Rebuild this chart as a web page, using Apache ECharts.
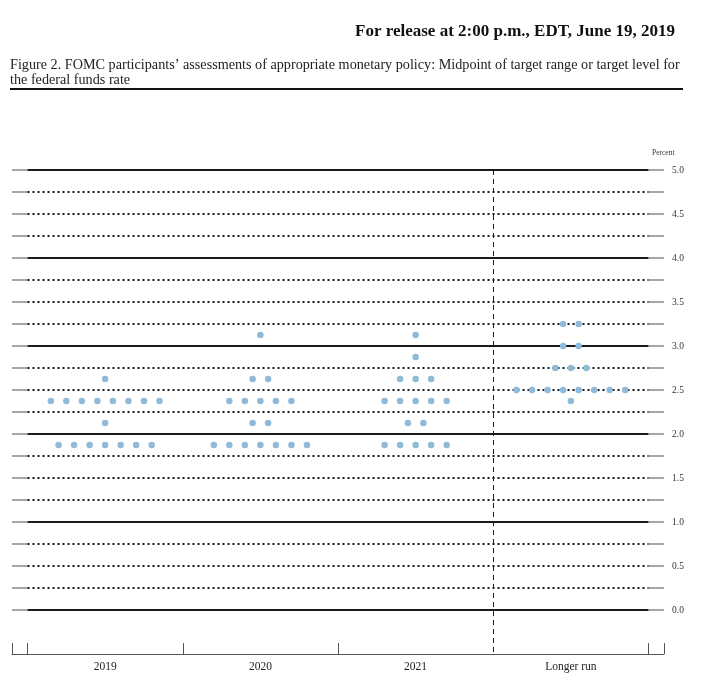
<!DOCTYPE html>
<html>
<head>
<meta charset="utf-8">
<script src="https://cdn.jsdelivr.net/npm/echarts@6/dist/echarts.min.js"></script>
<style>
html,body{margin:0;padding:0;background:#fff;}
#chart{width:723px;height:687px;}
</style>
</head>
<body>
<div id="chart"></div>
<script>
// ---- data ----
const categories = ['2019', '2020', '2021', 'Longer run'];
const proj2019 = [2.625, 2.375, 2.375, 2.375, 2.375, 2.375, 2.375, 2.375, 2.375, 2.125, 1.875, 1.875, 1.875, 1.875, 1.875, 1.875, 1.875];
const proj2020 = [3.125, 2.625, 2.625, 2.375, 2.375, 2.375, 2.375, 2.375, 2.125, 2.125, 1.875, 1.875, 1.875, 1.875, 1.875, 1.875, 1.875];
const proj2021 = [3.125, 2.875, 2.625, 2.625, 2.625, 2.375, 2.375, 2.375, 2.375, 2.375, 2.125, 2.125, 1.875, 1.875, 1.875, 1.875, 1.875];
const projLonger = [3.25, 3.25, 3.0, 3.0, 2.75, 2.75, 2.75, 2.5, 2.5, 2.5, 2.5, 2.5, 2.5, 2.5, 2.5, 2.375];
const yTickLabels = ['0.0', '0.5', '1.0', '1.5', '2.0', '2.5', '3.0', '3.5', '4.0', '4.5', '5.0'];
const gridLevels = [0, 0.25, 0.5, 0.75, 1, 1.25, 1.5, 1.75, 2, 2.25, 2.5, 2.75, 3, 3.25, 3.5, 3.75, 4, 4.25, 4.5, 4.75, 5];

const headerText = 'For release at 2:00 p.m., EDT, June 19, 2019';
const titleLine1 = 'Figure 2. FOMC participants\u2019 assessments of appropriate monetary policy: Midpoint of target range or target level for';
const titleLine2 = 'the federal funds rate';
const unitLabel = 'Percent';

// ---- build dot positions (spread dots of equal value horizontally) ----
const DOT_STEP = 0.1;
function buildDots(values, catIndex) {
  const groups = {};
  values.forEach(v => { (groups[v] = groups[v] || []).push(v); });
  const out = [];
  Object.keys(groups).forEach(k => {
    const n = groups[k].length;
    for (let i = 0; i < n; i++) {
      out.push([catIndex + 0.5 + (i - (n - 1) / 2) * DOT_STEP, Number(k)]);
    }
  });
  return out;
}
const allDots = [].concat(
  buildDots(proj2019, 0),
  buildDots(proj2020, 1),
  buildDots(proj2021, 2),
  buildDots(projLonger, 3)
);

// ---- horizontal reference lines ----
const lineData = [];
gridLevels.forEach(v => {
  const whole = Math.abs(v - Math.round(v)) < 1e-9;
  lineData.push([{coord: [-0.1, v], lineStyle: {color: '#8a8a8a', width: 1.5, type: 'solid'}}, {coord: [0, v]}]);
  lineData.push([{coord: [4, v], lineStyle: {color: '#8a8a8a', width: 1.5, type: 'solid'}}, {coord: [4.1, v]}]);
  lineData.push([{coord: [0, v], lineStyle: whole ? {color: '#1a1a1a', width: 2, type: 'solid'} : {color: '#1a1a1a', width: 2, type: [2, 3]}}, {coord: [4, v]}]);
});
lineData.push([{coord: [3, 5], lineStyle: {color: '#1a1a1a', width: 1, type: [5, 4]}}, {coord: [3, -0.5]}]);

const chart = echarts.init(document.getElementById('chart'), null, {renderer: 'canvas'});
const serif = 'Liberation Serif';
chart.setOption({
  animation: false,
  backgroundColor: '#fff',
  textStyle: {fontFamily: serif},
  grid: {left: 12, right: 59, top: 170, bottom: 33, containLabel: false},
  xAxis: {
    type: 'value', min: -0.1, max: 4.1,
    axisLine: {show: true, onZero: false, lineStyle: {color: '#555', width: 1}},
    axisTick: {show: true, inside: true, length: 11, customValues: [-0.1, 0, 1, 2, 4, 4.1], lineStyle: {color: '#555', width: 1}},
    axisLabel: {show: true, customValues: [0.5, 1.5, 2.5, 3.5], margin: 7, color: '#222', fontFamily: serif, fontSize: 11.5,
      formatter: v => categories[Math.floor(v)]},
    splitLine: {show: false}
  },
  yAxis: {
    type: 'value', min: -0.5, max: 5, interval: 0.5, position: 'right',
    axisLine: {show: false}, axisTick: {show: false}, splitLine: {show: false},
    axisLabel: {margin: 8, color: '#333', fontFamily: serif, fontSize: 9.5,
      formatter: v => { if (v < 0) return ''; const i = Math.round(v * 2); return yTickLabels[i] || ''; }}
  },
  graphic: [
    {type: 'text', left: 355, top: 23, style: {text: headerText, font: 'bold 17px "Liberation Serif"', fill: '#111'}},
    {type: 'text', left: 10, top: 58, style: {text: titleLine1, font: '14.2px "Liberation Serif"', fill: '#222'}},
    {type: 'text', left: 10, top: 73, style: {text: titleLine2, font: '14.2px "Liberation Serif"', fill: '#222'}},
    {type: 'line', shape: {x1: 10, y1: 89, x2: 683, y2: 89}, style: {stroke: '#111', lineWidth: 2}},
    {type: 'text', left: 652, top: 149, style: {text: unitLabel, font: '7.5px "Liberation Serif"', fill: '#333'}}
  ],
  series: [
    {
      type: 'scatter', data: [], silent: true,
      markLine: {silent: true, symbol: 'none', label: {show: false}, animation: false, data: lineData}
    },
    {
      type: 'scatter', data: allDots, symbol: 'circle', symbolSize: 6.5, silent: true, z: 5,
      itemStyle: {color: '#8fbbd9', opacity: 1}
    }
  ]
});
</script>
</body>
</html>
